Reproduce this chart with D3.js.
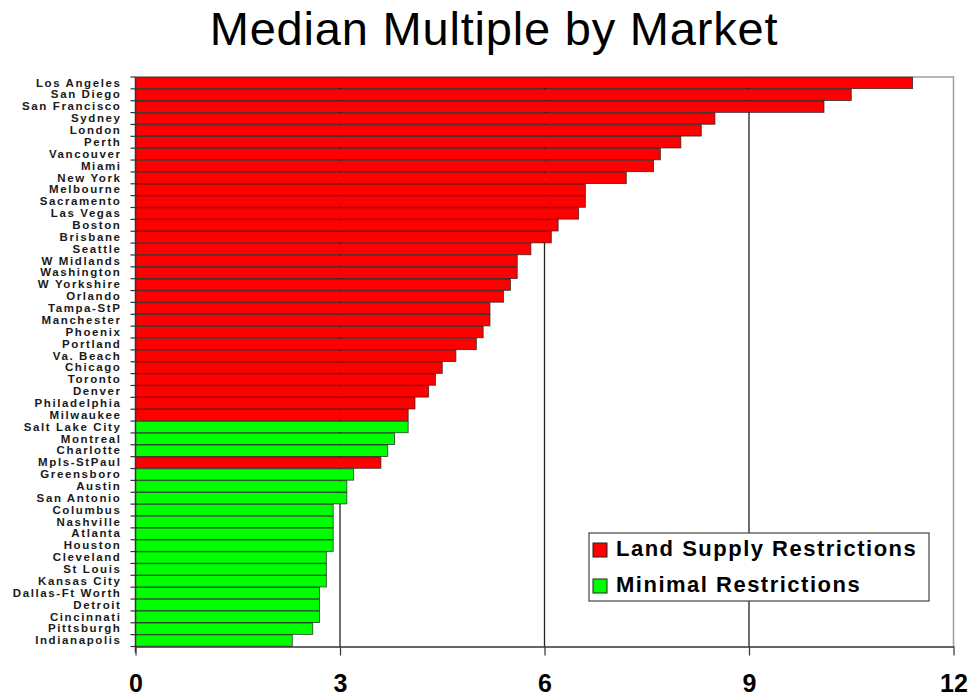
<!DOCTYPE html>
<html>
<head>
<meta charset="utf-8">
<script src="https://cdn.jsdelivr.net/npm/d3@7/dist/d3.min.js"></script>
<style>
  html, body { margin: 0; padding: 0; background: #fff; }
  svg { display: block; }
</style>
</head>
<body>
<svg id="chart" width="971" height="698"></svg>
<script>
// Markets, top to bottom
const markets = [
  "Los Angeles", "San Diego", "San Francisco", "Sydney", "London", "Perth",
  "Vancouver", "Miami", "New York", "Melbourne", "Sacramento", "Las Vegas",
  "Boston", "Brisbane", "Seattle", "W Midlands", "Washington", "W Yorkshire",
  "Orlando", "Tampa-StP", "Manchester", "Phoenix", "Portland", "Va. Beach",
  "Chicago", "Toronto", "Denver", "Philadelphia", "Milwaukee", "Salt Lake City",
  "Montreal", "Charlotte", "Mpls-StPaul", "Greensboro", "Austin", "San Antonio",
  "Columbus", "Nashville", "Atlanta", "Houston", "Cleveland", "St Louis",
  "Kansas City", "Dallas-Ft Worth", "Detroit", "Cincinnati", "Pittsburgh",
  "Indianapolis"
];

// Median multiple (median house price / median household income)
const medianMultiple = [
  11.4, 10.5, 10.1, 8.5, 8.3, 8.0,
  7.7, 7.6, 7.2, 6.6, 6.6, 6.5,
  6.2, 6.1, 5.8, 5.6, 5.6, 5.5,
  5.4, 5.2, 5.2, 5.1, 5.0, 4.7,
  4.5, 4.4, 4.3, 4.1, 4.0, 4.0,
  3.8, 3.7, 3.6, 3.2, 3.1, 3.1,
  2.9, 2.9, 2.9, 2.9, 2.8, 2.8,
  2.8, 2.7, 2.7, 2.7, 2.6,
  2.3
];

// Land-use regime: "L" = land supply restrictions, "M" = minimal restrictions
const regime = [
  "L","L","L","L","L","L","L","L","L","L","L","L",
  "L","L","L","L","L","L","L","L","L","L","L","L",
  "L","L","L","L","L","M","M","M","L","M","M","M",
  "M","M","M","M","M","M","M","M","M","M","M","M"
];

const xTicks = [0, 3, 6, 9, 12];
const legendKeys = ["L", "M"];
const legendLabels = ["Land Supply Restrictions", "Minimal Restrictions"];
const regimeColors = ["#ff0000", "#00ff00"];

const svg = d3.select("#chart");
const plot = { left: 135.5, right: 953.5, top: 77, bottom: 646.5 };

const x = d3.scaleLinear().domain([0, 12]).range([plot.left, plot.right]);
const y = d3.scaleBand().domain(markets).range([plot.top, plot.bottom]).paddingInner(0.04).paddingOuter(0.02);
const color = d3.scaleOrdinal().domain(legendKeys).range(regimeColors);

const rows = markets.map((m, i) => ({ market: m, value: medianMultiple[i], regime: regime[i] }));

// Title
svg.append("text")
  .attr("x", 494).attr("y", 45)
  .attr("text-anchor", "middle")
  .attr("font-family", "Liberation Sans, Arial, sans-serif")
  .attr("font-size", 47)
  .attr("letter-spacing", "0.8px")
  .attr("fill", "#000")
  .text("Median Multiple by Market");

// Plot frame (top and right edges)
svg.append("path")
  .attr("d", `M${plot.left},${plot.top}H${plot.right}V${plot.bottom}`)
  .attr("fill", "none")
  .attr("stroke", "#a0a0a0")
  .attr("stroke-width", 1.5);

// Vertical gridlines behind the bars
svg.append("g")
  .selectAll("line")
  .data(xTicks.filter(t => t > 0 && t < 12))
  .join("line")
  .attr("x1", d => x(d)).attr("x2", d => x(d))
  .attr("y1", plot.top).attr("y2", plot.bottom)
  .attr("stroke", "#222")
  .attr("stroke-width", 1.3);

// Bars
svg.append("g")
  .selectAll("rect")
  .data(rows)
  .join("rect")
  .attr("x", x(0))
  .attr("y", d => y(d.market))
  .attr("width", d => x(d.value) - x(0))
  .attr("height", y.bandwidth())
  .attr("fill", d => color(d.regime))
  .attr("stroke", "#1a1a1a")
  .attr("stroke-opacity", 0.75)
  .attr("stroke-width", 0.9);

// Category axis
const yAxis = d3.axisLeft(y).tickSize(0).tickPadding(14);
const gy = svg.append("g")
  .attr("transform", `translate(${plot.left},0)`)
  .call(yAxis);
gy.select(".domain").remove();
gy.selectAll("text")
  .attr("font-family", "Liberation Sans, Arial, sans-serif")
  .attr("font-weight", "bold")
  .attr("font-size", 11.5)
  .attr("letter-spacing", "1.6px")
  .attr("fill", "#1a1a1a");

// Left axis line with ticks at band boundaries
const step = (plot.bottom - plot.top) / markets.length;
svg.append("line")
  .attr("x1", plot.left).attr("x2", plot.left)
  .attr("y1", plot.top).attr("y2", plot.bottom + 6)
  .attr("stroke", "#333").attr("stroke-width", 1.5);
svg.append("g")
  .selectAll("line")
  .data(d3.range(markets.length + 1))
  .join("line")
  .attr("x1", plot.left - 5).attr("x2", plot.left)
  .attr("y1", i => plot.top + i * step).attr("y2", i => plot.top + i * step)
  .attr("stroke", "#333").attr("stroke-width", 1.2);

// Value axis
const xAxis = d3.axisBottom(x).tickValues(xTicks).tickSize(9).tickPadding(19).tickSizeOuter(0);
const gx = svg.append("g")
  .attr("transform", `translate(0,${plot.bottom})`)
  .call(xAxis);
gx.select(".domain").attr("stroke", "#333").attr("stroke-width", 1.5);
gx.selectAll(".tick line").attr("stroke", "#333").attr("stroke-width", 1.2);
gx.selectAll("text")
  .attr("font-family", "Liberation Sans, Arial, sans-serif")
  .attr("font-weight", "bold")
  .attr("font-size", 25)
  .attr("fill", "#000");

// Legend
const legend = svg.append("g").attr("transform", "translate(589,533)");
legend.append("rect")
  .attr("width", 340).attr("height", 68)
  .attr("fill", "#fff")
  .attr("stroke", "#444").attr("stroke-width", 1.2);
const items = legend.selectAll("g.item")
  .data(legendKeys)
  .join("g")
  .attr("class", "item")
  .attr("transform", (d, i) => `translate(4,${10 + i * 36})`);
items.append("rect")
  .attr("width", 14).attr("height", 14)
  .attr("fill", d => color(d))
  .attr("stroke", "#222").attr("stroke-width", 1);
items.append("text")
  .attr("x", 23).attr("y", 13)
  .attr("font-family", "Liberation Sans, Arial, sans-serif")
  .attr("font-weight", "bold")
  .attr("font-size", 22)
  .attr("letter-spacing", "1.5px")
  .attr("fill", "#000")
  .text((d, i) => legendLabels[i]);
</script>
</body>
</html>
